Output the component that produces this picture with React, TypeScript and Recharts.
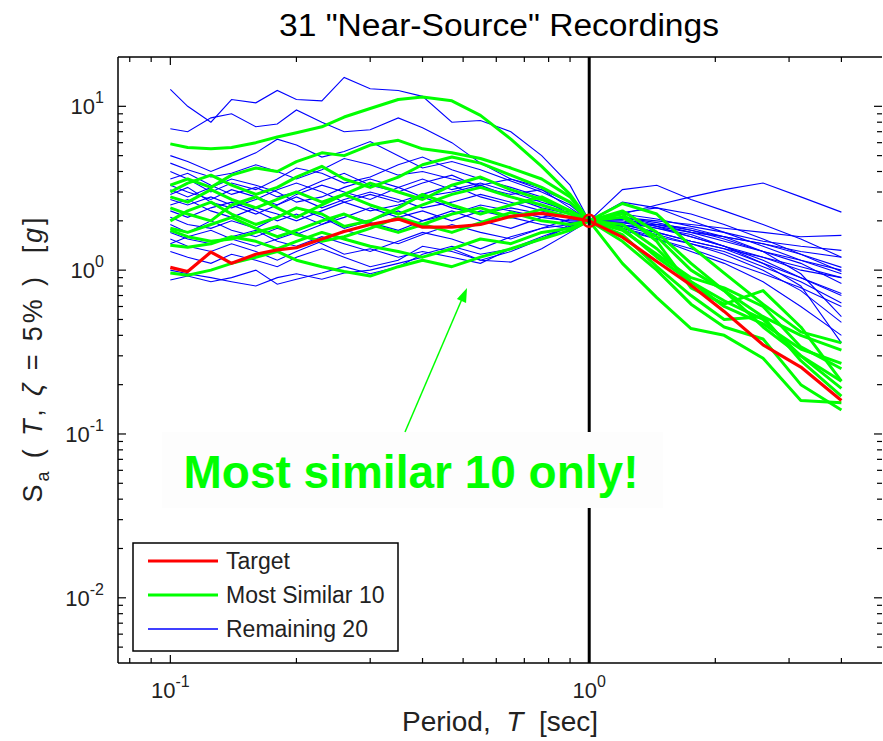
import { LineChart, Line, XAxis, YAxis } from "recharts"

// periods (sec) shared by every spectrum
const periods = [0.1, 0.11, 0.125, 0.14, 0.16, 0.18, 0.2, 0.23, 0.26, 0.3, 0.35, 0.4, 0.47, 0.55, 0.65, 0.77, 0.9, 1.0, 1.2, 1.45, 1.75, 2.1, 2.6, 3.2, 4.0]

const target = [1.04, 0.98, 1.29, 1.1, 1.25, 1.33, 1.37, 1.55, 1.72, 1.9, 2.05, 1.83, 1.83, 1.9, 2.13, 2.22, 2.1, 2.0, 1.59, 1.13, 0.81, 0.56, 0.35, 0.256, 0.16]

// most similar 10
const sim1 = [5.9, 5.6, 5.5, 5.6, 6.0, 6.5, 6.9, 7.5, 8.6, 9.7, 11.0, 11.4, 10.8, 8.8, 6.3, 4.3, 2.9, 2.0, 2.3, 1.7, 1.1, 0.75, 0.45, 0.3, 0.21]
const sim2 = [3.3, 3.6, 3.2, 3.8, 4.2, 4.0, 4.6, 5.2, 5.0, 5.8, 6.2, 5.5, 5.2, 4.8, 4.2, 3.6, 2.8, 2.0, 2.55, 2.2, 1.4, 0.96, 0.62, 0.42, 0.36]
const sim3 = [3.0, 3.4, 3.8, 3.3, 2.9, 3.2, 3.7, 4.3, 3.6, 3.2, 3.7, 4.4, 4.9, 4.5, 3.8, 3.2, 2.6, 2.0, 2.1, 1.6, 1.0, 0.75, 0.52, 0.4, 0.325]
const sim4 = [2.8, 2.6, 3.1, 2.7, 2.4, 2.7, 3.0, 2.6, 2.9, 3.4, 3.0, 2.7, 3.3, 3.7, 3.1, 2.7, 2.3, 2.0, 1.9, 1.35, 0.85, 0.6, 0.47, 0.33, 0.27]
const sim5 = [2.4, 2.2, 2.0, 2.5, 2.8, 2.4, 2.1, 2.5, 2.9, 2.5, 2.2, 2.5, 2.9, 3.2, 2.8, 2.5, 2.2, 2.0, 1.75, 1.25, 0.9, 0.78, 0.6, 0.34, 0.25]
const sim6 = [2.0, 2.3, 2.6, 2.2, 1.9, 2.1, 2.4, 2.2, 1.85, 2.0, 2.4, 2.9, 2.5, 2.2, 2.5, 2.8, 2.3, 2.0, 2.2, 1.5, 0.78, 0.62, 0.75, 0.45, 0.21]
const sim7 = [1.8, 1.7, 1.9, 2.1, 1.8, 1.6, 1.75, 2.0, 2.2, 1.9, 1.7, 1.9, 2.2, 2.4, 2.1, 2.35, 2.1, 2.0, 1.8, 1.2, 0.85, 0.65, 0.5, 0.3, 0.19]
const sim8 = [1.75, 1.6, 1.5, 1.55, 1.7, 1.85, 1.65, 1.5, 1.6, 1.8, 2.1, 1.9, 1.7, 1.95, 2.25, 2.0, 1.9, 2.0, 1.65, 1.05, 0.7, 0.5, 0.52, 0.28, 0.17]
const sim9 = [1.42, 1.38, 1.45, 1.6, 1.5, 1.35, 1.5, 1.7, 1.55, 1.4, 1.3, 1.2, 1.35, 1.55, 1.45, 1.7, 1.8, 2.0, 1.5, 1.0, 0.62, 0.45, 0.38, 0.2, 0.14]
const sim10 = [0.96, 0.93, 1.0, 1.1, 1.2, 1.3, 1.15, 1.05, 0.98, 0.92, 1.05, 1.15, 1.05, 1.2, 1.35, 1.55, 1.75, 2.0, 1.1, 0.68, 0.44, 0.4, 0.29, 0.16, 0.155]

// remaining 20
const rem1 = [12.7, 10.0, 8.0, 11.0, 10.5, 12.5, 11.0, 10.8, 15.0, 12.8, 12.5, 11.5, 8.0, 8.2, 7.0, 5.0, 3.3, 2.0, 3.1, 3.3, 2.7, 2.3, 1.9, 1.55, 1.2]
const rem2 = [7.3, 7.0, 8.5, 9.0, 7.5, 7.8, 9.5, 8.0, 7.0, 7.2, 8.5, 7.4, 6.0, 4.5, 3.6, 3.2, 2.6, 2.0, 2.2, 2.5, 2.8, 3.1, 3.4, 2.8, 2.26]
const rem3 = [5.0, 4.6, 4.0, 4.5, 5.2, 6.3, 5.8, 4.9, 5.3, 6.1, 5.0, 4.2, 4.6, 4.1, 3.5, 3.0, 2.5, 2.0, 1.85, 1.9, 1.8, 1.6, 1.45, 1.25, 1.04]
const rem4 = [4.5, 4.1, 3.7, 3.9, 4.4, 4.0, 3.6, 4.1, 4.8, 4.4, 3.8, 4.0, 3.6, 3.3, 3.6, 3.1, 2.6, 2.0, 2.1, 2.0, 1.9, 1.8, 1.7, 1.6, 1.63]
const rem5 = [4.0, 3.6, 3.0, 3.4, 3.1, 3.6, 4.2, 3.9, 3.4, 3.7, 4.4, 4.9, 4.1, 3.6, 3.2, 2.8, 2.3, 2.0, 2.0, 1.8, 1.6, 1.4, 1.2, 1.05, 0.9]
const rem6 = [3.6, 3.9, 3.3, 2.9, 3.2, 2.8, 3.0, 3.5, 3.9, 3.3, 3.0, 3.4, 3.8, 3.2, 2.9, 3.1, 2.4, 2.0, 2.2, 2.05, 1.85, 1.7, 1.5, 1.4, 1.32]
const rem7 = [3.3, 3.0, 2.7, 3.1, 2.8, 2.5, 2.9, 3.3, 3.0, 2.7, 3.2, 3.6, 3.1, 3.4, 3.0, 2.6, 2.3, 2.0, 1.9, 1.7, 1.5, 1.35, 1.1, 0.9, 0.72]
const rem8 = [3.1, 2.8, 3.2, 3.6, 3.3, 3.0, 2.6, 2.8, 3.2, 3.6, 3.2, 2.8, 3.0, 3.3, 2.8, 2.4, 2.2, 2.0, 2.1, 1.95, 1.75, 1.55, 1.3, 1.1, 0.83]
const rem9 = [2.9, 3.2, 2.6, 2.4, 2.7, 3.1, 3.4, 3.0, 2.6, 2.9, 2.6, 2.9, 3.3, 2.8, 2.5, 2.7, 2.2, 2.0, 1.8, 1.6, 1.45, 1.3, 1.05, 0.85, 0.63]
const rem10 = [2.7, 2.5, 2.8, 2.5, 2.2, 2.5, 2.8, 2.4, 2.7, 3.0, 2.7, 2.4, 2.6, 2.9, 2.6, 2.3, 2.1, 2.0, 1.95, 1.9, 1.75, 1.6, 1.3, 0.95, 0.52]
const rem11 = [2.5, 2.7, 2.3, 2.1, 2.4, 2.2, 2.0, 2.3, 2.6, 2.3, 2.5, 2.8, 2.4, 2.2, 2.4, 2.2, 1.95, 2.0, 2.05, 1.85, 1.7, 1.6, 1.45, 1.3, 1.2]
const rem12 = [2.3, 2.1, 2.4, 2.6, 2.3, 2.0, 2.2, 1.9, 2.1, 2.4, 2.1, 2.3, 2.0, 2.3, 2.1, 1.9, 1.8, 2.0, 1.85, 1.65, 1.45, 1.25, 1.0, 0.75, 0.48]
const rem13 = [2.1, 1.9, 1.8, 2.0, 1.8, 2.1, 2.4, 2.1, 1.8, 2.0, 2.3, 2.0, 2.2, 2.5, 2.3, 2.1, 2.0, 2.0, 2.25, 2.4, 2.2, 1.9, 1.55, 1.25, 0.98]
const rem14 = [1.9, 1.7, 2.0, 1.75, 1.6, 1.8, 1.65, 1.9, 2.2, 1.95, 1.75, 2.0, 2.3, 2.0, 1.8, 2.1, 2.3, 2.0, 1.95, 1.8, 1.65, 1.4, 1.1, 0.8, 0.36]
const rem15 = [1.7, 1.55, 1.45, 1.6, 1.75, 1.5, 1.4, 1.6, 1.45, 1.3, 1.5, 1.7, 1.55, 1.35, 1.6, 1.8, 1.9, 2.0, 1.75, 1.55, 1.35, 1.15, 0.95, 0.78, 0.6]
const rem16 = [1.55, 1.4, 1.3, 1.45, 1.3, 1.15, 1.3, 1.5, 1.75, 1.6, 1.45, 1.65, 1.9, 1.7, 1.55, 1.8, 2.05, 2.0, 1.9, 1.7, 1.5, 1.35, 1.2, 1.0, 0.9]
const rem17 = [1.45, 1.6, 1.75, 1.55, 1.4, 1.55, 1.7, 1.45, 1.25, 1.35, 1.2, 1.3, 1.2, 1.1, 1.35, 1.6, 1.85, 2.0, 2.1, 1.9, 1.7, 1.5, 1.3, 1.15, 1.0]
const rem18 = [1.3, 1.2, 1.1, 1.25, 1.15, 1.05, 1.2, 1.35, 1.2, 1.05, 1.15, 1.4, 1.3, 1.15, 1.3, 1.55, 1.85, 2.0, 2.6, 2.4, 2.0, 1.7, 1.4, 1.15, 0.95]
const rem19 = [1.0, 0.95, 0.9, 0.85, 0.8, 0.9, 0.95, 0.88, 0.96, 1.0, 1.1, 1.2, 1.35, 1.15, 1.12, 1.35, 1.7, 2.0, 2.05, 1.85, 1.6, 1.4, 1.15, 0.9, 0.7]
const rem20 = [0.87, 0.92, 0.85, 0.9, 1.0, 0.82, 0.88, 0.96, 1.05, 0.95, 1.05, 1.25, 1.4, 1.25, 1.35, 1.55, 1.9, 2.0, 1.8, 1.55, 1.3, 1.1, 0.85, 0.6, 0.4]

const mostSimilar = [sim1, sim2, sim3, sim4, sim5, sim6, sim7, sim8, sim9, sim10]
const remaining = [rem1, rem2, rem3, rem4, rem5, rem6, rem7, rem8, rem9, rem10, rem11, rem12, rem13, rem14, rem15, rem16, rem17, rem18, rem19, rem20]

// conditioning period and target value there
const condPeriod = 1.0
const condSa = 2.0

const xDomain = [0.075, 5]
const yDomain = [0.004, 20]
const xTicks = [0.08, 0.09, 0.1, 0.2, 0.3, 0.4, 0.5, 0.6, 0.7, 0.8, 0.9, 1, 2, 3, 4]
const yTicks = [0.005, 0.006, 0.007, 0.008, 0.009, 0.01, 0.02, 0.03, 0.04, 0.05, 0.06, 0.07, 0.08, 0.09, 0.1, 0.2, 0.3, 0.4, 0.5, 0.6, 0.7, 0.8, 0.9, 1, 2, 3, 4, 5, 6, 7, 8, 9, 10]

const legendItems = [
  { label: "Target", color: "#ff0000", width: 3 },
  { label: "Most Similar 10", color: "#00ff00", width: 3 },
  { label: "Remaining 20", color: "#0000ff", width: 1.5 },
]

const FONT = "'Liberation Sans', Arial, Helvetica, sans-serif"
const TXT = "#222"

const toPoints = (vals: number[]) => periods.map((T, i) => ({ T, Sa: vals[i] }))

const exponent = (v: number) => {
  const e = Math.log10(v)
  return Math.abs(e - Math.round(e)) < 1e-6 ? Math.round(e) : null
}

function BottomTick({ x, y, payload }: any) {
  const e = exponent(payload.value)
  return (
    <g>
      <line x1={x} x2={x} y1={y} y2={y - (e !== null ? 8 : 5)} stroke="#000" strokeWidth={1.2} />
      {e !== null && (
        <text x={x} y={y + 35} textAnchor="middle" fontSize={22} fontFamily={FONT} fill={TXT}>
          10<tspan dy={-11} fontSize={16}>{e}</tspan>
        </text>
      )}
    </g>
  )
}

function TopTick({ x, y, payload }: any) {
  const e = exponent(payload.value)
  return <line x1={x} x2={x} y1={y} y2={y + (e !== null ? 8 : 5)} stroke="#000" strokeWidth={1.2} />
}

function LeftTick({ x, y, payload }: any) {
  const e = exponent(payload.value)
  return (
    <g>
      <line x1={x} x2={x + (e !== null ? 8 : 5)} y1={y} y2={y} stroke="#000" strokeWidth={1.2} />
      {e !== null && (
        <text x={x - 14} y={y + 8} textAnchor="end" fontSize={22} fontFamily={FONT} fill={TXT}>
          10<tspan dy={-11} fontSize={16}>{e}</tspan>
        </text>
      )}
    </g>
  )
}

function RightTick({ x, y, payload }: any) {
  const e = exponent(payload.value)
  return <line x1={x} x2={x - (e !== null ? 8 : 5)} y1={y} y2={y} stroke="#000" strokeWidth={1.2} />
}

export default function App() {
  return (
    <div style={{ position: "absolute", left: 0, top: 0, width: 883, height: 741, background: "#fff" }}>
      <LineChart width={883} height={741} margin={{ top: 56, right: 0, bottom: 77, left: 117 }}>
        <XAxis dataKey="T" type="number" scale="log" domain={xDomain} allowDataOverflow ticks={xTicks} interval={0}
          height={1} tickSize={0} tickMargin={0} tickLine={false} tick={BottomTick}
          axisLine={{ stroke: "#000", strokeWidth: 1.5 }} />
        <XAxis xAxisId="top" orientation="top" dataKey="T" type="number" scale="log" domain={xDomain} allowDataOverflow
          ticks={xTicks} interval={0} height={1} tickSize={0} tickMargin={0} tickLine={false} tick={TopTick}
          axisLine={{ stroke: "#000", strokeWidth: 1.5 }} />
        <YAxis dataKey="Sa" type="number" scale="log" domain={yDomain} allowDataOverflow ticks={yTicks} interval={0}
          width={1} tickSize={0} tickMargin={0} tickLine={false} tick={LeftTick}
          axisLine={{ stroke: "#000", strokeWidth: 1.5 }} />
        <YAxis yAxisId="right" orientation="right" type="number" scale="log" domain={yDomain} allowDataOverflow
          ticks={yTicks} interval={0} width={1} tickSize={0} tickMargin={0} tickLine={false} tick={RightTick}
          axisLine={false} />

        {remaining.map((vals, i) => (
          <Line key={"r" + i} data={toPoints(vals)} dataKey="Sa" type="linear" stroke="#0000ff" strokeWidth={1.1}
            dot={false} activeDot={false} isAnimationActive={false} />
        ))}
        {mostSimilar.map((vals, i) => (
          <Line key={"s" + i} data={toPoints(vals)} dataKey="Sa" type="linear" stroke="#00ff00" strokeWidth={3}
            strokeLinejoin="round" dot={false} activeDot={false} isAnimationActive={false} />
        ))}
        <Line data={toPoints(target)} dataKey="Sa" type="linear" stroke="#ff0000" strokeWidth={3.2}
          strokeLinejoin="round" dot={false} activeDot={false} isAnimationActive={false} />
        <Line data={[{ T: condPeriod, Sa: yDomain[0] }, { T: condPeriod, Sa: yDomain[1] }]} dataKey="Sa" type="linear"
          stroke="#000" strokeWidth={3} dot={false} activeDot={false} isAnimationActive={false} />
        <Line data={[{ T: condPeriod, Sa: condSa }]} dataKey="Sa" stroke="none"
          dot={{ r: 6, stroke: "#ff0000", strokeWidth: 2.5, fill: "none" }} activeDot={false} isAnimationActive={false} />
      </LineChart>

      <svg width={883} height={741} style={{ position: "absolute", left: 0, top: 0, pointerEvents: "none" }}>
        <text x={499} y={36} textAnchor="middle" fontSize={31} fontFamily={FONT} fill="#000"
          textLength={440} lengthAdjust="spacingAndGlyphs">
          31 "Near-Source" Recordings
        </text>
        <text transform="translate(42,360) rotate(-90)" textAnchor="middle" fontSize={27} fontFamily={FONT} fill={TXT}
          style={{ whiteSpace: "pre" }} textLength={285} lengthAdjust="spacing">
          S<tspan fontSize={18} dy={7}>a</tspan><tspan dy={-7}> ( </tspan><tspan fontStyle="italic">T</tspan>
          <tspan>, </tspan><tspan fontStyle="italic">ζ</tspan><tspan> = 5% )  [</tspan>
          <tspan fontStyle="italic">g</tspan><tspan>]</tspan>
        </text>
        <text x={500} y={731} textAnchor="middle" fontSize={28} fontFamily={FONT} fill={TXT} style={{ whiteSpace: "pre" }}>
          Period,  <tspan fontStyle="italic">T</tspan>  [sec]
        </text>

        <rect x={162} y={432} width={501} height={76} fill="#fdfdfd" />
        <text x={411} y={488} textAnchor="middle" fontSize={46} fontWeight="bold" fontFamily={FONT} fill="#00ff00">
          Most similar 10 only!
        </text>
        <line x1={405} y1={432} x2={462} y2={299} stroke="#00ff00" strokeWidth={1.5} />
        <polygon points="467,288 466.1,302.9 456.9,298.9" fill="#00ff00" />

        <rect x={133} y={543} width={265} height={108} fill="#fff" stroke="#000" strokeWidth={1.5} />
        {legendItems.map((it, i) => (
          <g key={it.label}>
            <line x1={148} x2={218} y1={561 + i * 34} y2={561 + i * 34} stroke={it.color} strokeWidth={it.width} />
            <text x={226} y={569 + i * 34} fontSize={23} fontFamily={FONT} fill={TXT}>{it.label}</text>
          </g>
        ))}
      </svg>
    </div>
  )
}
